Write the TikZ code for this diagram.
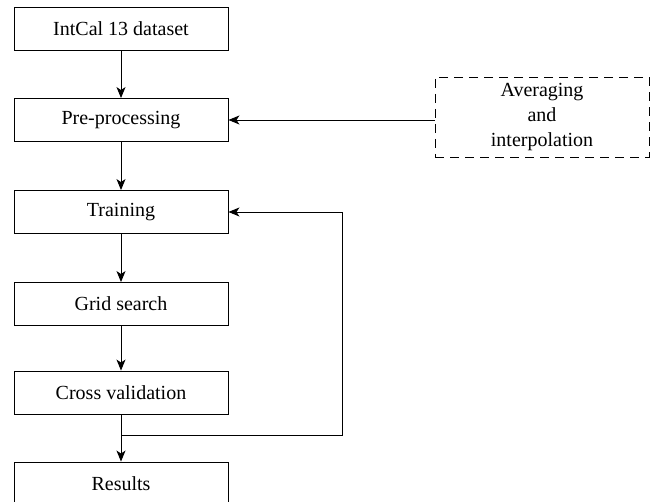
\documentclass[tikz,border=0pt]{standalone}
\usepackage{fontspec}
\setmainfont{Liberation Serif}
\usetikzlibrary{arrows.meta}
\begin{document}
\begin{tikzpicture}[x=1pt,y=-1pt,
  box/.style={draw, line width=0.9pt, minimum width=214pt, minimum height=43pt, inner sep=0pt, font=\fontsize{20}{25}\selectfont, align=center},
  dbox/.style={box, minimum height=80pt, dash pattern=on 9pt off 6pt},
  conn/.style={line width=0.9pt, -{Stealth[length=11pt,width=9pt,inset=3pt]}}]
\clip (0,0) rectangle (656,502);
\useasboundingbox (0,0) rectangle (656,502);
\node[box] (a) at (121,28.5) {IntCal 13 dataset};
\node[box] (b) at (121,120) {Pre-processing};
\node[box] (c) at (121,212) {Training};
\node[box] (d) at (121,304) {Grid search};
\node[box] (e) at (121,392.5) {Cross validation};
\node[box] (f) at (121,483.5) {Results};
\node[dbox] (g) at (542,117) {Averaging\\and\\interpolation};
\coordinate (j) at (121,435);
\coordinate (k) at (342,435);
\coordinate (l) at (342,212);
\draw[conn] (a) -- (b);
\draw[conn] (b) -- (c);
\draw[conn] (c) -- (d);
\draw[conn] (d) -- (e);
\draw[conn] (e) -- (f);
\draw[conn] (g.west |- b.east) -- (b.east);
\draw[line width=0.9pt] (j) -- (k) -- (l);
\draw[conn] (l) -- (c.east);
\end{tikzpicture}
\end{document}
